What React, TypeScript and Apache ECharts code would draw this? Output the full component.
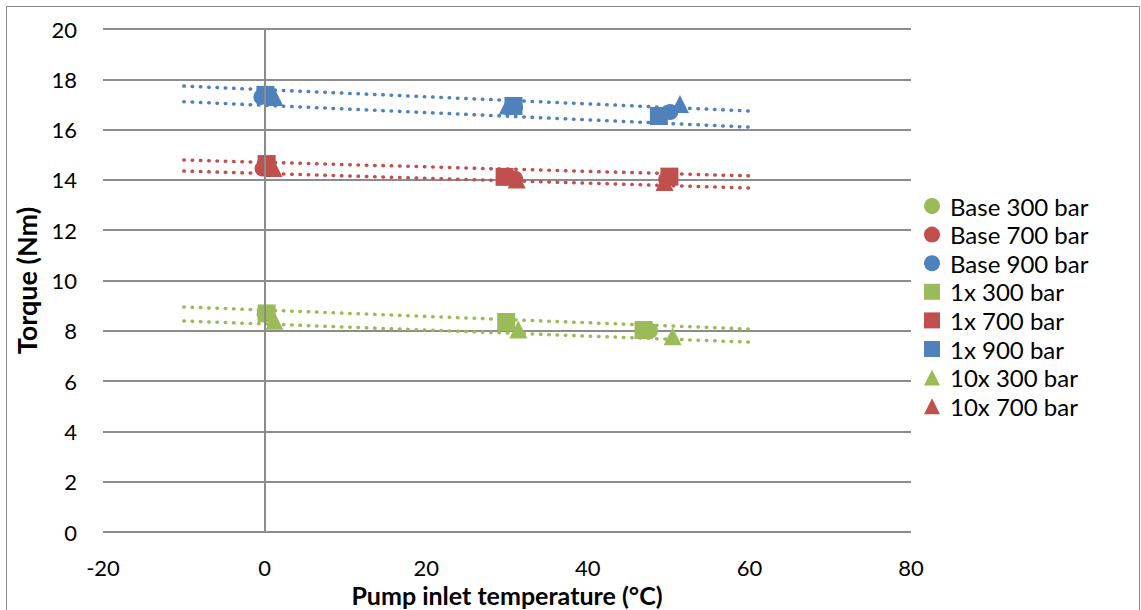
import React, { useEffect, useRef } from "react";
import * as echarts from "echarts";

const GREEN = "#9BBB59";
const RED = "#C0504D";
const BLUE = "#4F81BD";

const xTicks = [-20, 0, 20, 40, 60, 80];
const yTicks = [0, 2, 4, 6, 8, 10, 12, 14, 16, 18, 20];

// scatter data [temperature, torque]
const base300 = [[0, 8.66], [30.0, 8.33], [47.7, 8.0]];
const base700 = [[-0.25, 14.45], [31.0, 14.05], [49.7, 14.02]];
const base900 = [[-0.4, 17.3], [31.0, 16.9], [50.2, 16.7]];
const x1_300 = [[0.25, 8.69], [29.9, 8.35], [46.9, 8.03]];
const x1_700 = [[0.25, 14.63], [29.7, 14.12], [50.1, 14.13]];
const x1_900 = [[0.1, 17.38], [30.8, 16.94], [48.8, 16.54]];
const x10_300 = [[1.2, 8.4], [31.4, 8.05], [50.5, 7.78]];
const x10_700 = [[1.1, 14.47], [31.2, 14.02], [49.5, 13.92]];
const x10_900 = [[1.2, 17.3], [30.1, 16.96], [51.4, 17.02]];

// dotted trend lines (endpoints at -10 and 60)
const trendGreenUpper = [[-10, 8.95], [60, 8.07]];
const trendGreenLower = [[-10, 8.39], [60, 7.55]];
const trendRedUpper = [[-10, 14.79], [60, 14.16]];
const trendRedLower = [[-10, 14.35], [60, 13.68]];
const trendBlueUpper = [[-10, 17.73], [60, 16.74]];
const trendBlueLower = [[-10, 17.11], [60, 16.1]];

const FONT = "Lato, 'Open Sans', sans-serif";

export default function App() {
  const ref = useRef<HTMLDivElement>(null);
  useEffect(() => {
    if (!ref.current) return;
    const chart = echarts.init(ref.current, undefined, { renderer: "svg" });

    const trend = (data: number[][], color: string, withZero = false) => ({
      type: "line",
      data,
      showSymbol: false,
      symbol: "none",
      silent: true,
      z: 1,
      lineStyle: { color, width: 3.5, type: [0.5, 7.8], cap: "round" },
      ...(withZero
        ? {
            markLine: {
              silent: true,
              symbol: "none",
              label: { show: false },
              lineStyle: { color: "#8c8c8c", width: 2, type: "solid" },
              data: [{ xAxis: 0 }],
            },
          }
        : {}),
    });

    const scatter = (name: string, data: number[][], color: string, symbol: string, size: number) => ({
      type: "scatter",
      name,
      data,
      symbol,
      symbolSize: size,
      itemStyle: { color, opacity: 1 },
      z: 3,
    });

    chart.setOption({
      animation: false,
      textStyle: { fontFamily: FONT },
      graphic: [
        {
          type: "rect",
          shape: { x: 6.5, y: 6.5, width: 1133, height: 612 },
          style: { fill: "none", stroke: "#8a8a8a", lineWidth: 1 },
          silent: true,
        },
      ],
      grid: { left: 103, top: 29, width: 808, height: 503, outerBoundsMode: "none", containLabel: false },
      xAxis: {
        type: "value",
        min: xTicks[0],
        max: xTicks[xTicks.length - 1],
        interval: 20,
        name: "Pump inlet temperature (°C)",
        nameLocation: "middle",
        nameGap: 40,
        nameTextStyle: { fontFamily: FONT, fontWeight: "bold", fontSize: 25, color: "#000" },
        axisLine: { show: false },
        axisTick: { show: false },
        splitLine: { show: false },
        axisLabel: { fontFamily: FONT, fontSize: 22, color: "#000", margin: 24 },
      },
      yAxis: {
        type: "value",
        min: yTicks[0],
        max: yTicks[yTicks.length - 1],
        interval: 2,
        name: "Torque (Nm)",
        nameLocation: "middle",
        nameGap: 63,
        nameRotate: 90,
        nameTextStyle: { fontFamily: FONT, fontWeight: "bold", fontSize: 27, color: "#000" },
        axisLine: { show: false },
        axisTick: { show: false },
        splitLine: { show: true, lineStyle: { color: "#8c8c8c", width: 2 } },
        axisLabel: { fontFamily: FONT, fontSize: 22, color: "#000", margin: 26 },
      },
      legend: {
        orient: "vertical",
        left: 919,
        top: 189,
        itemWidth: 16,
        itemHeight: 16,
        itemGap: 4.6,
        textStyle: { fontFamily: FONT, fontSize: 24, color: "#000", padding: [0, 0, 0, 5] },
        data: [
          { name: "Base 300 bar", icon: "circle" },
          { name: "Base 700 bar", icon: "circle" },
          { name: "Base 900 bar", icon: "circle" },
          { name: "1x 300 bar", icon: "rect" },
          { name: "1x 700 bar", icon: "rect" },
          { name: "1x 900 bar", icon: "rect" },
          { name: "10x 300 bar", icon: "triangle" },
          { name: "10x 700 bar", icon: "triangle" },
        ],
      },
      series: [
        trend(trendGreenUpper, GREEN, true),
        trend(trendGreenLower, GREEN),
        trend(trendRedUpper, RED),
        trend(trendRedLower, RED),
        trend(trendBlueUpper, BLUE),
        trend(trendBlueLower, BLUE),
        scatter("Base 300 bar", base300, GREEN, "circle", 16),
        scatter("Base 700 bar", base700, RED, "circle", 16),
        scatter("Base 900 bar", base900, BLUE, "circle", 16),
        scatter("1x 300 bar", x1_300, GREEN, "rect", 18),
        scatter("1x 700 bar", x1_700, RED, "rect", 18),
        scatter("1x 900 bar", x1_900, BLUE, "rect", 18),
        scatter("10x 300 bar", x10_300, GREEN, "triangle", 18),
        scatter("10x 700 bar", x10_700, RED, "triangle", 18),
        scatter("10x 900 bar", x10_900, BLUE, "triangle", 18),
      ],
    });
    return () => chart.dispose();
  }, []);
  return (
    <div
      ref={ref}
      style={{ position: "absolute", left: 0, top: 0, width: 1141, height: 610, background: "#fff" }}
    />
  );
}
